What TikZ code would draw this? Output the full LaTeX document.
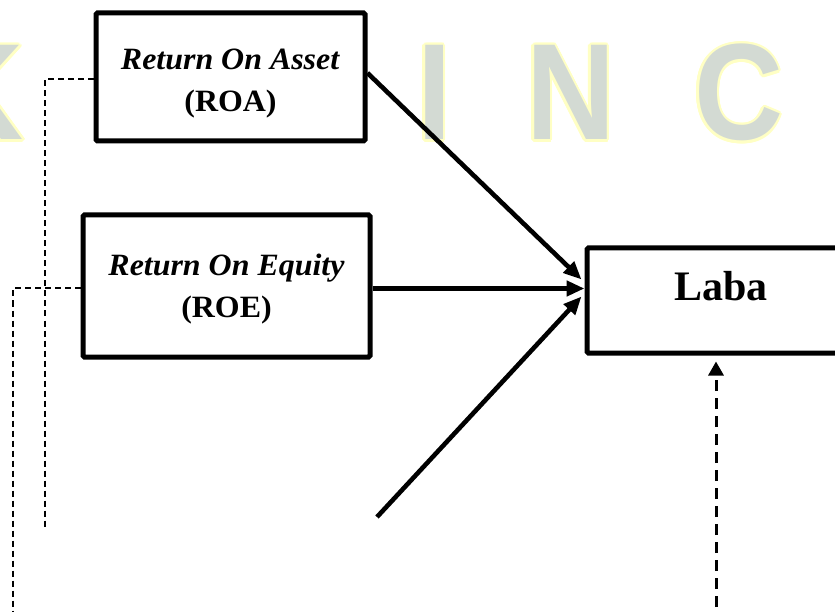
\documentclass[tikz,border=0pt]{standalone}
\usepackage{fontspec}
\setmainfont{Liberation Serif}
\newfontfamily\boxfont[FakeStretch=1.03]{Liberation Serif}
\newfontfamily\wmfont[FakeStretch=0.9]{Liberation Sans}
\usepackage[copies]{contour}
\usetikzlibrary{arrows.meta,calc}
\definecolor{wmgray}{RGB}{211,218,211}
\definecolor{wmyellow}{RGB}{255,255,196}
\contourlength{2.5pt}
\begin{document}
\begin{tikzpicture}[x=1pt,y=-1pt,
  box/.style={draw=black, line width=5pt, fill=white, rounded corners=1.5pt, inner sep=0pt, align=center},
  boxtext/.style={font=\boxfont\bfseries\fontsize{31}{42}\selectfont},
  arr/.style={line width=4.6pt, -{Triangle[length=18pt,width=15pt]}},
  dashsmall/.style={line width=2pt, dash pattern=on 6pt off 4pt},
  dashbig/.style={line width=3pt, dash pattern=on 11pt off 7pt, -{Triangle[length=14pt,width=15pt]}},
  wm/.style={inner sep=0pt, font=\wmfont\bfseries\fontsize{137}{137}\selectfont, text=wmgray}
]
\useasboundingbox (0,0) rectangle (835,612);
\clip (0,0) rectangle (835,612);
\fill[white] (0,0) rectangle (835,612);

% watermark
\node[wm, anchor=base east] (wK) at (24,140) {\contour{wmyellow}{K}};
\node[wm, anchor=base west] (wI) at (417,140) {\contour{wmyellow}{I}};
\node[wm, anchor=base west] (wN) at (526,140) {\contour{wmyellow}{N}};
\node[wm, anchor=base west] (wC) at (694,140) {\contour{wmyellow}{C}};

% boxes
\node[box, boxtext, minimum width=269pt, minimum height=128pt, text height=76pt] (ROA) at (230.5,77)
  {\textit{Return On Asset}\\(ROA)};
\node[box, boxtext, minimum width=287pt, minimum height=142pt, text height=69pt] (ROE) at (226.5,286)
  {\textit{Return On Equity}\\(ROE)};
\node[box, minimum width=268pt, minimum height=105pt,
      font=\bfseries\fontsize{42}{42}\selectfont, text height=29pt, text depth=28pt] (Laba) at (721,300.5) {Laba};

% arrows into Laba
\coordinate (tip1) at ($(Laba.west)+(-3,-21)$);
\coordinate (tip2) at ($(Laba.west)+(0,-12)$);
\coordinate (tip3) at ($(Laba.west)+(-3,-4)$);
\coordinate (src) at (377,517);
\draw[arr] ($(ROA.east)+(0,-4)$) -- (tip1);
\draw[arr] (ROE.east |- tip2) -- (tip2);
\draw[arr] (src) -- (tip3);

% dashed lines
\coordinate (c1) at (45,530);
\coordinate (c2) at (13,625);
\draw[dashsmall] ($(ROA.west)+(0,2)$) -| (c1);
\draw[dashsmall] ($(ROE.west)+(0,2)$) -| (c2);
\coordinate (dbot) at (716,625);
\draw[dashbig] (dbot) -- ($(Laba.south -| dbot)+(0,6)$);
\end{tikzpicture}
\end{document}
